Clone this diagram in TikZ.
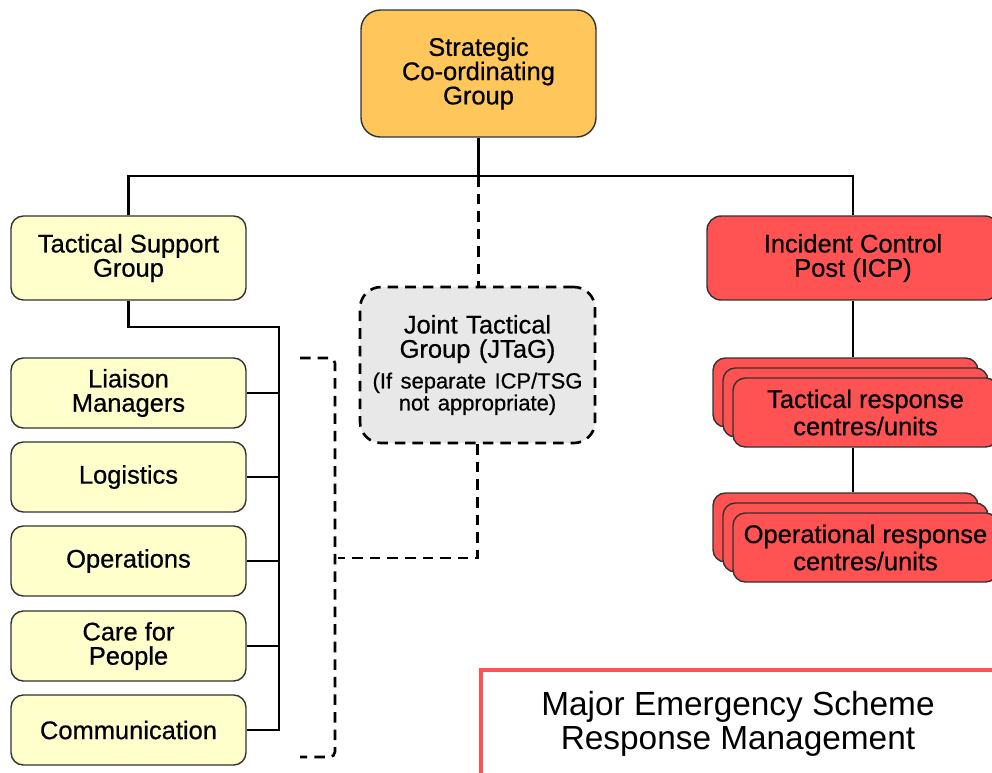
\documentclass[tikz,border=0pt]{standalone}
\usepackage{fontspec}
\setmainfont{Liberation Sans}
\newfontfamily\boxfont[FakeBold=0.6]{Liberation Sans}
\usetikzlibrary{positioning}

\definecolor{scgorange}{RGB}{255,198,92}
\definecolor{tsgyellow}{RGB}{255,255,204}
\definecolor{icpred}{RGB}{255,82,82}
\definecolor{jtaggrey}{RGB}{232,232,232}
\definecolor{boxline}{RGB}{50,50,50}

\begin{document}
\begin{tikzpicture}[x=0.02cm,y=-0.02cm,
    box/.style={draw=boxline,line width=0.8pt,rectangle,rounded corners=7pt,inner sep=0pt,
        align=center,font=\boxfont\fontsize{14.5}{13.8}\selectfont},
    subbox/.style={box,fill=tsgyellow,minimum width=4.7cm,minimum height=1.4cm},
    redbox/.style={box,fill=icpred,minimum width=5.3cm,minimum height=1.38cm,
        font=\boxfont\fontsize{14.5}{15.5}\selectfont},
    conn/.style={line width=1.5pt},
    dashconn/.style={line width=1.5pt,dash pattern=on 6pt off 4pt}]
        \useasboundingbox (0,0) rectangle (992,772);

        %%%%%%%%%% Strategic %%%%%%%%%%
        \node[box,fill=scgorange,rounded corners=11pt,minimum width=4.7cm,minimum height=2.54cm] (SCG) at (478.5,73.5) {Strategic\\Co-ordinating\\Group};

        %%%%%%%%%% Tactical support %%%%%%%%%%
        \node[box,fill=tsgyellow,minimum width=4.7cm,minimum height=1.68cm] (TSG) at (128.5,258) {Tactical Support\\Group};
        \node[subbox] (Liaison) at (128.5,393) {Liaison\\Managers};
        \node[subbox] (Logistics) at (128.5,477) {Logistics};
        \node[subbox] (Operations) at (128.5,561) {Operations};
        \node[subbox] (Care) at (128.5,646) {Care for\\People};
        \node[subbox] (Comm) at (128.5,730) {Communication};

        %%%%%%%%%% Joint tactical %%%%%%%%%%
        \node[box,fill=jtaggrey,rounded corners=12pt,dashconn,draw=black,minimum width=4.7cm,minimum height=3.12cm,text width=4.5cm] (JTaG) at (477.5,365)
            {{\fontsize{14.5}{13.8}\selectfont Joint Tactical\\Group (JTaG)\par}\vspace{5pt}
             {\fontsize{12.5}{12.5}\selectfont (If separate ICP/TSG\\not appropriate)\par}};

        %%%%%%%%%% Incident control %%%%%%%%%%
        \node[box,fill=icpred,rounded corners=8pt,minimum width=5.84cm,minimum height=1.68cm] (ICP) at (853,258) {Incident Control\\Post (ICP)};
        \node[redbox] (TacB) at (845.5,392.5) {};
        \node[redbox] (TacM) at (855.5,402.5) {};
        \node[redbox] (TacF) at (865.5,412.5) {Tactical response\\centres/units};
        \node[redbox] (OpB) at (845.5,527.5) {};
        \node[redbox] (OpM) at (855.5,537.5) {};
        \node[redbox] (OpF) at (865.5,547.5) {Operational response\\centres/units};

        %%%%%%%%%% Title %%%%%%%%%%
        \node[draw=icpred,line width=2.2pt,fill=white,rectangle,minimum width=10.28cm,minimum height=2.16cm,
            align=center,font=\fontsize{19}{19}\selectfont] (Title) at (738,724) {Major Emergency Scheme\\Response Management};

        %%%%%%%%%% Links %%%%%%%%%%
        \coordinate (BarL) at (128.5,176);
        \coordinate (BarM) at (478.5,176);
        \coordinate (BarR) at (853,176);
        \coordinate (Spine) at (279,327);
        \draw[conn] (SCG.south) -- (BarM);
        \draw[conn] (TSG.north) -- (BarL) -- (BarR) -- (ICP.north);
        \draw[conn] (TSG.south) |- (Spine) -- (Comm.east -| Spine) -- (Comm.east);
        \draw[conn] (Liaison.east) -- (Liaison.east -| Spine);
        \draw[conn] (Logistics.east) -- (Logistics.east -| Spine);
        \draw[conn] (Operations.east) -- (Operations.east -| Spine);
        \draw[conn] (Care.east) -- (Care.east -| Spine);
        \draw[conn] (ICP.south) -- (ICP.south |- TacB.north);
        \draw[conn] (TacF.south -| ICP.south) -- (OpB.north -| ICP.south);

        %%%%%%%%%% Dashed links %%%%%%%%%%
        \coordinate (BrTL) at (300,358);
        \coordinate (BrTR) at (335,358);
        \coordinate (BrBR) at (335,757);
        \coordinate (BrBL) at (300,757);
        \coordinate (BrMid) at (338,558);
        \draw[dashconn] (BarM) -- (BarM |- JTaG.north);
        \draw[dashconn,rounded corners=3pt] (BrTL) -- (BrTR) -- (BrBR) -- (BrBL);
        \draw[dashconn] (JTaG.south) |- (BrMid);
    \end{tikzpicture}
\end{document}
